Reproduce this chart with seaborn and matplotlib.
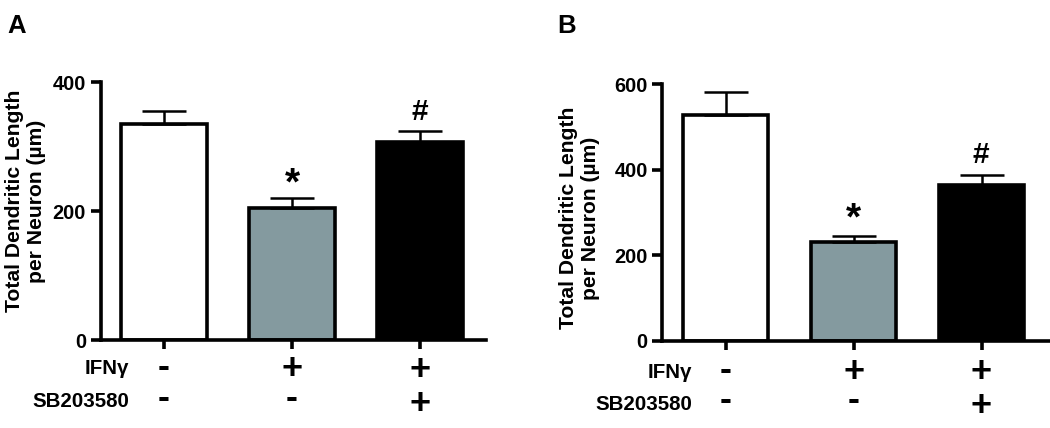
import matplotlib
matplotlib.use("Agg")
import matplotlib.pyplot as plt
import seaborn as sns
import pandas as pd

sns.set_theme(style="white")
plt.rcParams['font.family'] = ['Liberation Sans', 'DejaVu Sans']
plt.rcParams['font.weight'] = 'bold'

W, H = 1050, 428
groups = ["control", "IFNg", "IFNg+SB"]
ifn_signs = ["-", "+", "+"]
sb_signs = ["-", "-", "+"]
colors = ["#ffffff", "#849a9f", "#000000"]

means_a = [336, 205, 308]
upper_a = [356, 220, 325]
ticks_a = [0, 200, 400]
means_b = [527, 230, 364]
upper_b = [583, 245, 388]
ticks_b = [0, 200, 400, 600]
ylabel = "Total Dendritic Length\nper Neuron (\u00b5m)"
row_labels = ["IFN\u03b3", "SB203580"]
LW = 2.6


def panel(rect_px, cx0, means, upper, ticks):
    l, r, t, b = rect_px
    ax = fig.add_axes([l / W, 1 - b / H, (r - l) / W, (b - t) / H])
    df = pd.DataFrame({"group": groups, "value": means})
    sns.barplot(data=df, x="group", y="value", hue="group", palette=colors, dodge=False,
                saturation=1, width=0.665, edgecolor="black", linewidth=LW,
                errorbar=None, legend=False, ax=ax)
    for i, (m, u) in enumerate(zip(means, upper)):
        ax.errorbar(i, m, yerr=[[0], [u - m]], color="black", elinewidth=1.8,
                    capsize=15.5, capthick=1.8, zorder=1)
    ax.set_ylim(ticks[0], ticks[-1])
    ax.set_xlim((l - cx0) / 128, (r - cx0) / 128)
    ax.set_yticks(ticks)
    ax.set_xticks(range(3))
    ax.set_xticklabels([])
    ax.set_xlabel("")
    ax.set_ylabel("")
    ax.tick_params(axis="y", direction="out", length=7.5, width=LW, labelsize=14.4,
                   pad=3, left=True, color="black", labelcolor="black")
    ax.tick_params(axis="x", direction="out", length=6.5, width=LW, bottom=True, color="black")
    sns.despine(ax=ax)
    for s in ("left", "bottom"):
        ax.spines[s].set_linewidth(LW)
        ax.spines[s].set_color("black")
    ax.patch.set_alpha(0)
    return ax


fig = plt.figure(figsize=(W / 100, H / 100), dpi=100, facecolor="white")


def px(x, y, s, **kw):
    kw.setdefault("color", "black")
    kw.setdefault("fontweight", "bold")
    fig.text(x / W, 1 - y / H, s, **kw)


ax_a = panel((100.7, 485.7, 82.5, 340), 164, means_a, upper_a, ticks_a)
ax_b = panel((662.3, 1050, 84.3, 340.7), 725.7, means_b, upper_b, ticks_b)

px(7, 33, "A", fontsize=18.5, ha="left", va="baseline")
px(557, 33, "B", fontsize=18.5, ha="left", va="baseline")

lab = dict(fontsize=15.2, rotation=90, ha="center", va="center", linespacing=1.2, multialignment="center")
px(25.5, 201, ylabel, **lab)
px(579.5, 218, ylabel, **lab)

# each column's two signs are one text; line spacing differs with the glyph pair
spacing = {("-", "-"): 0.83, ("+", "-"): 0.76, ("+", "+"): 0.965}
baseline = {"-": 407.6, "+": 413.7}
for centers, xoff, rows_y, dy in (((164, 292, 420), 129, (369, 401.5), 0),
                                  ((725.7, 853.7, 981.3), 692, (372, 404.5), 2.5)):
    px(xoff, rows_y[0], row_labels[0], fontsize=14.8, ha="right", va="center")
    px(xoff, rows_y[1], row_labels[1], fontsize=14.8, ha="right", va="center")
    for c, s1, s2 in zip(centers, ifn_signs, sb_signs):
        px(c, baseline[s2] + dy, s1 + "\n" + s2, fontsize=26, ha="center", va="baseline",
           multialignment="center", linespacing=spacing[(s1, s2)])

px(292, 184, "*", fontsize=28, ha="center", va="center")
px(420, 112, "#", fontsize=21.5, ha="center", va="center")
px(853.7, 219, "*", fontsize=28, ha="center", va="center")
px(981.3, 155, "#", fontsize=21.5, ha="center", va="center")

fig.savefig("out.png", dpi=100, facecolor="white")
